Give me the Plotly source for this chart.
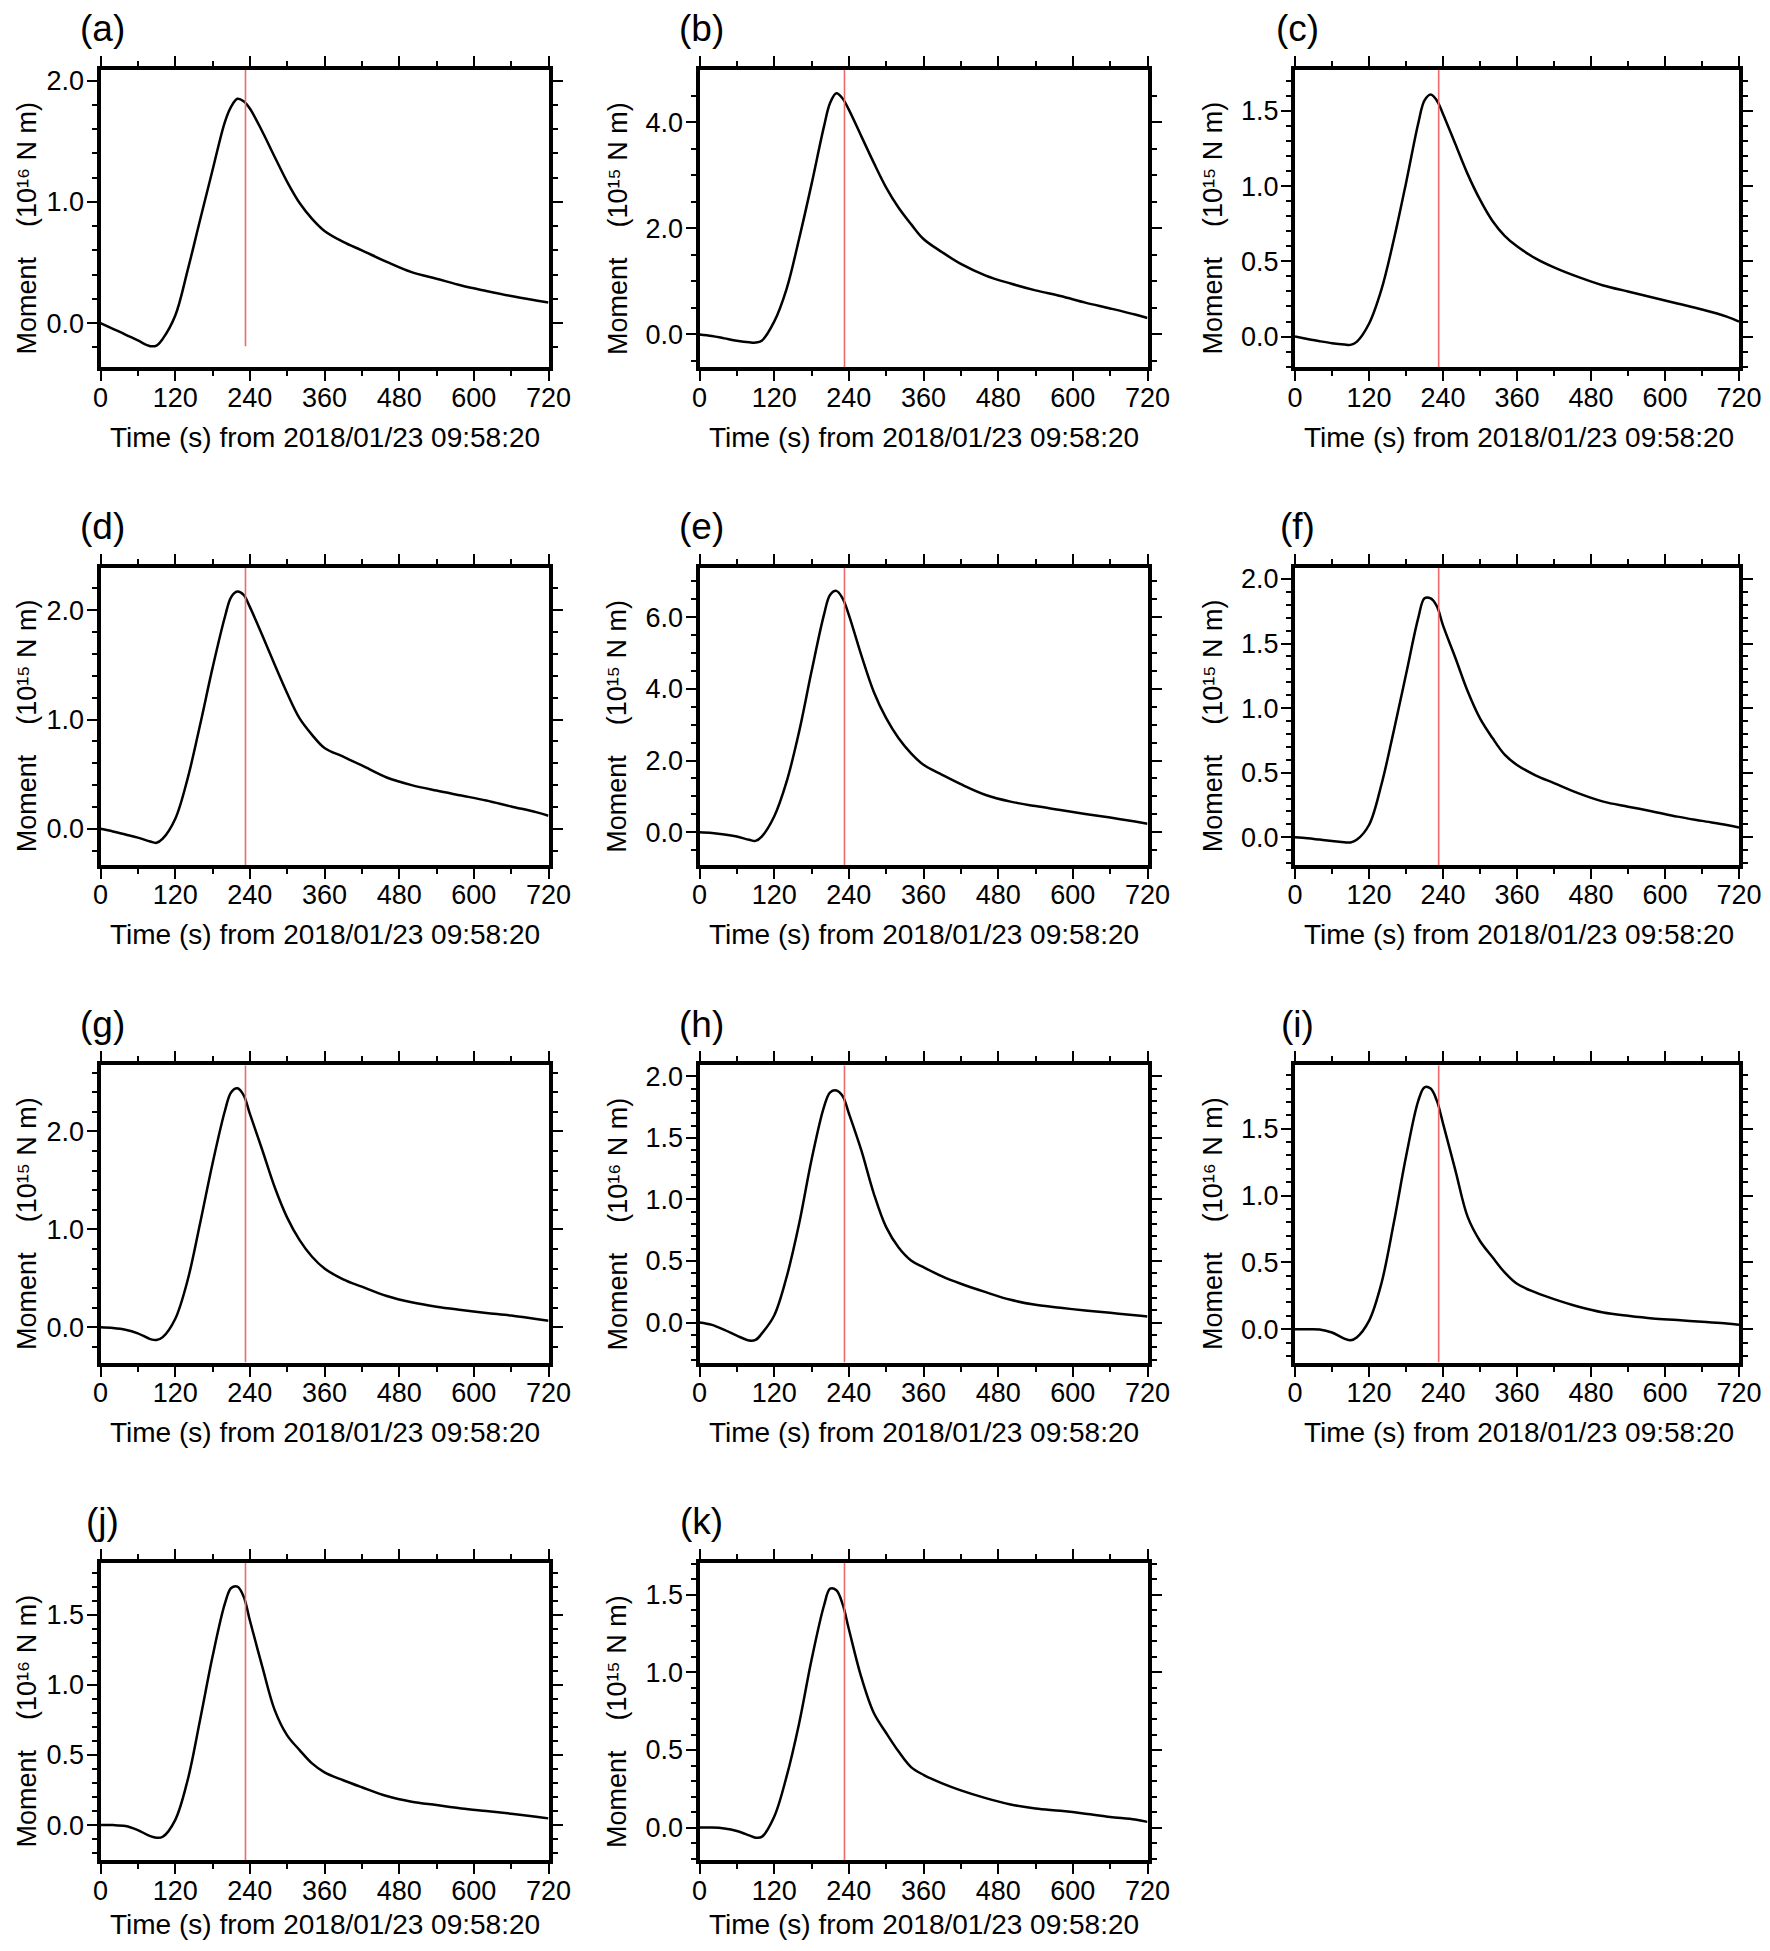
import plotly.graph_objects as go

# ---------------- data ----------------
T = [0, 20, 40, 60, 80, 90, 100, 120, 140, 160, 180, 200, 210, 220, 230, 240,
     260, 280, 300, 320, 340, 360, 390, 420, 460, 500, 540, 580, 620, 660, 700, 720]

panel_labels = ["(a)", "(b)", "(c)", "(d)", "(e)", "(f)", "(g)", "(h)", "(i)", "(j)", "(k)"]
exponents = [16, 15, 15, 15, 15, 15, 15, 16, 16, 16, 15]
y_min = [-0.364, -0.62, -0.204, -0.33, -0.91, -0.214, -0.36, -0.325, -0.25, -0.25, -0.21]
y_max = [2.088, 4.99, 1.773, 2.39, 7.38, 2.088, 2.675, 2.09, 1.975, 1.87, 1.707]
major_step = [1.0, 2.0, 0.5, 1.0, 2.0, 0.5, 1.0, 0.5, 0.5, 0.5, 0.5]
minor_step = [0.2, 0.5, 0.1, 0.2, 0.5, 0.1, 0.2, 0.1, 0.1, 0.1, 0.1]
red_time = [233, 233, 233, 233, 233, 233, 233, 233, 233, 233, 233]
x_ticks = [0, 120, 240, 360, 480, 600, 720]

m_a = [0.0, -0.047, -0.094, -0.143, -0.19, -0.185, -0.13, 0.06, 0.435, 0.85, 1.26, 1.66, 1.785, 1.85,
       1.83, 1.77, 1.58, 1.37, 1.165, 0.99, 0.86, 0.76, 0.67, 0.60, 0.505, 0.42, 0.366, 0.31, 0.265,
       0.223, 0.187, 0.17]
m_b = [0.0, -0.03, -0.075, -0.12, -0.15, -0.155, -0.12, 0.24, 0.86, 1.8, 2.83, 3.92, 4.37, 4.55,
       4.45, 4.24, 3.74, 3.24, 2.77, 2.39, 2.08, 1.8, 1.55, 1.33, 1.11, 0.96, 0.83, 0.725, 0.6,
       0.49, 0.375, 0.31]
m_c = [0.0, -0.016, -0.031, -0.044, -0.053, -0.055, -0.035, 0.085, 0.31, 0.64, 1.02, 1.42, 1.57, 1.61,
       1.57, 1.48, 1.28, 1.08, 0.91, 0.77, 0.67, 0.6, 0.52, 0.46, 0.395, 0.34, 0.30, 0.26, 0.22,
       0.18, 0.133, 0.10]
m_d = [0.0, -0.024, -0.052, -0.08, -0.116, -0.128, -0.09, 0.09, 0.46, 0.95, 1.47, 1.94, 2.12, 2.17,
       2.14, 2.03, 1.77, 1.50, 1.24, 1.01, 0.86, 0.74, 0.66, 0.58, 0.47, 0.40, 0.35, 0.305, 0.26,
       0.205, 0.153, 0.12]
m_e = [0.0, -0.02, -0.06, -0.12, -0.21, -0.24, -0.12, 0.44, 1.41, 2.8, 4.48, 6.06, 6.62, 6.73,
       6.52, 6.06, 4.94, 3.92, 3.18, 2.62, 2.2, 1.88, 1.6, 1.34, 1.04, 0.855, 0.73, 0.62, 0.51,
       0.41, 0.30, 0.24]
m_f = [0.0, -0.008, -0.018, -0.028, -0.039, -0.04, -0.02, 0.095, 0.405, 0.82, 1.26, 1.70, 1.85, 1.85,
       1.79, 1.64, 1.39, 1.13, 0.92, 0.77, 0.64, 0.56, 0.48, 0.42, 0.34, 0.276, 0.237, 0.2, 0.16,
       0.127, 0.095, 0.075]
m_g = [0.0, -0.007, -0.024, -0.061, -0.12, -0.13, -0.10, 0.085, 0.48, 1.06, 1.67, 2.21, 2.40, 2.44,
       2.37, 2.18, 1.81, 1.43, 1.12, 0.89, 0.72, 0.60, 0.49, 0.415, 0.32, 0.255, 0.21, 0.177, 0.147,
       0.12, 0.085, 0.068]
m_h = [0.0, -0.019, -0.06, -0.106, -0.146, -0.141, -0.09, 0.057, 0.37, 0.80, 1.32, 1.75, 1.87, 1.885,
       1.84, 1.70, 1.40, 1.05, 0.775, 0.61, 0.505, 0.45, 0.375, 0.315, 0.247, 0.185, 0.144, 0.12,
       0.098, 0.079, 0.06, 0.049]
m_i = [0.0, 0.0, -0.002, -0.025, -0.07, -0.083, -0.062, 0.062, 0.34, 0.79, 1.29, 1.71, 1.81, 1.80,
       1.71, 1.54, 1.19, 0.84, 0.66, 0.54, 0.425, 0.34, 0.275, 0.225, 0.168, 0.125, 0.10, 0.08,
       0.068, 0.055, 0.043, 0.033]
m_j = [0.0, 0.0, -0.007, -0.036, -0.079, -0.09, -0.083, 0.036, 0.32, 0.75, 1.20, 1.58, 1.69, 1.70,
       1.63, 1.46, 1.13, 0.82, 0.64, 0.535, 0.44, 0.376, 0.32, 0.27, 0.207, 0.167, 0.143, 0.119,
       0.10, 0.081, 0.06, 0.048]
m_k = [0.0, 0.0, -0.006, -0.022, -0.05, -0.065, -0.06, 0.07, 0.33, 0.67, 1.08, 1.43, 1.54, 1.53,
       1.44, 1.28, 0.97, 0.74, 0.61, 0.49, 0.39, 0.34, 0.285, 0.24, 0.19, 0.149, 0.123, 0.108,
       0.09, 0.069, 0.052, 0.037]

series = [m_a, m_b, m_c, m_d, m_e, m_f, m_g, m_h, m_i, m_j, m_k]
x_title = "Time (s) from 2018/01/23 09:58:20"
SUPERSCRIPT = str.maketrans("0123456789", "\u2070\u00b9\u00b2\u00b3\u2074\u2075\u2076\u2077\u2078\u2079")

# ---------------- layout geometry (target pixels in the 1770x1951 picture) ----------------
W, H = 1754, 1935            # figure size, kept inside the window with its body margin
X0, XS = 15.0, 1723.0        # observed horizontal placement of the paper area in the picture
Y0 = 8.0                     # body margin (vertical)
COL_LEFT = [99.5, 698.5, 1294.0]
ROW_TOP = [66, 564.7, 1063.4, 1562]
FW, FH = 448, 298
FONT = "Liberation Sans, Arial, Helvetica, sans-serif"


def px(xp):
    return min(1.0, max(0.0, (xp - X0) / XS))


def py(yp):
    return 1 - (yp - Y0) / H


fig = go.Figure()
annotations = []
layout_axes = {}

for i, vals in enumerate(series):
    r, c = divmod(i, 3)
    left, top = COL_LEFT[c], ROW_TOP[r]
    n = "" if i == 0 else str(i + 1)
    xa, ya = "x" + n, "y" + n

    fig.add_trace(go.Scatter(x=T, y=vals, mode="lines", xaxis=xa, yaxis=ya,
                             line=dict(color="black", width=2.5, shape="spline", smoothing=1.0),
                             showlegend=False, hoverinfo="skip"))
    lo = min(vals) if i == 0 else y_min[i]
    fig.add_trace(go.Scatter(x=[red_time[i], red_time[i]], y=[lo, y_max[i]], mode="lines",
                             xaxis=xa, yaxis=ya, line=dict(color="#ee6a6a", width=1.6),
                             showlegend=False, hoverinfo="skip"))

    common = dict(showline=True, linewidth=4, linecolor="black", mirror="ticks",
                  ticks="outside", ticklen=10, tickwidth=2, tickcolor="black",
                  showgrid=False, zeroline=False,
                  tickfont=dict(family=FONT, size=27, color="black"))
    layout_axes["xaxis" + n] = dict(
        domain=[px(left), px(left + FW)], anchor=ya, range=[0, 720],
        tickmode="array", tickvals=x_ticks, ticktext=[str(v) for v in x_ticks],
        ticklabelstandoff=-7,
        minor=dict(dtick=60, tick0=0, ticks="outside", ticklen=5, tickwidth=2, tickcolor="black"),
        **common)
    layout_axes["yaxis" + n] = dict(
        domain=[py(top + FH), py(top)], anchor=xa, range=[y_min[i], y_max[i]],
        tick0=0, dtick=major_step[i], tickformat=".1f", ticklabelstandoff=-3,
        minor=dict(dtick=minor_step[i], tick0=0, ticks="outside", ticklen=5, tickwidth=2,
                   tickcolor="black"),
        **common)

    annotations.append(dict(text=panel_labels[i], xref="paper", yref="paper",
                            x=px(left + 2), y=py(top - 41),
                            xanchor="center", yanchor="middle", showarrow=False,
                            font=dict(family=FONT, size=37, color="black")))
    annotations.append(dict(text=x_title, xref="paper", yref="paper",
                            x=px(left + FW / 2), y=py(min(top + FH + 70, 1924)),
                            xanchor="center", yanchor="middle", showarrow=False,
                            font=dict(family=FONT, size=28, color="black")))
    ytitle = "Moment\u00a0\u00a0\u00a0\u00a0(10" + str(exponents[i]).translate(SUPERSCRIPT) + " N m)"
    annotations.append(dict(text=ytitle, xref="paper", yref="paper", textangle=-90,
                            x=px(max(left - 82, 26)), y=py(top + FH / 2 + 10),
                            xanchor="center", yanchor="middle", showarrow=False,
                            font=dict(family=FONT, size=27, color="black")))

fig.update_layout(width=W, height=H, autosize=False, margin=dict(l=0, r=0, t=0, b=0),
                  paper_bgcolor="white", plot_bgcolor="white",
                  annotations=annotations, **layout_axes)

fig.write_html("out.html", config={"displayModeBar": False, "responsive": False})
